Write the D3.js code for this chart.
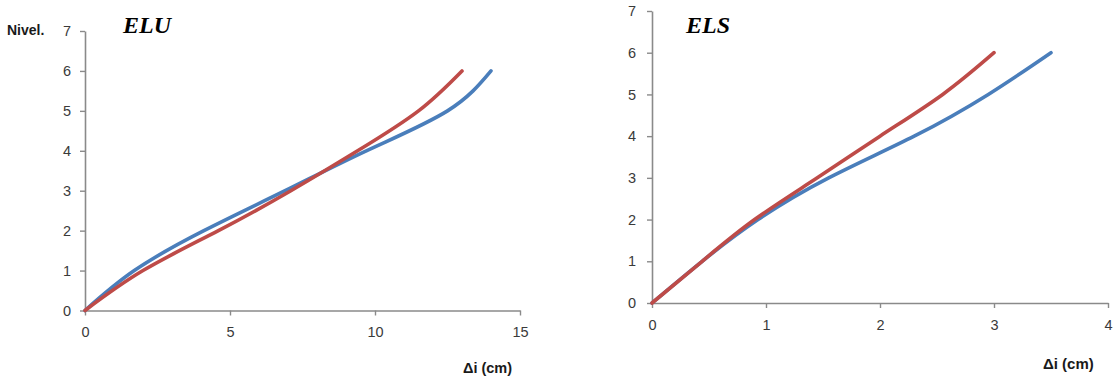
<!DOCTYPE html>
<html>
<head>
<meta charset="utf-8">
<script src="https://cdn.jsdelivr.net/npm/d3@7"></script>
<style>
  html, body { margin: 0; padding: 0; background: #fff; }
  svg { display: block; }
  .tick text { font-family: "Liberation Sans", Arial, sans-serif; font-size: 14.5px; fill: #3a3a3a; }
</style>
</head>
<body>
<svg id="chart" width="1118" height="381"></svg>
<script>
// Storey levels (floor numbers) shared by both panels
const levels = [0, 1, 2, 3, 4, 5, 6];

// ELU: relative storey drift Δi (cm) per level
const eluBlue = [0, 1.7, 4.1, 6.9, 9.7, 12.5, 14];
const eluRed  = [0, 2.0, 4.6, 7.1, 9.4, 11.5, 13];

// ELS: relative storey drift Δi (cm) per level
const elsBlue = [0, 0.44, 0.93, 1.55, 2.3, 2.95, 3.5];
const elsRed  = [0, 0.44, 0.9, 1.45, 2.0, 2.55, 3.0];

const eluXTicks = [0, 5, 10, 15];
const elsXTicks = [0, 1, 2, 3, 4];
const yTicks = [0, 1, 2, 3, 4, 5, 6, 7];

const BLUE = "#4a7ebb";
const RED = "#be4b48";
const AXIS = "#8a8a8a";

const svg = d3.select("#chart");
const intFmt = d3.format("d");

function panel(cfg) {
  const g = svg.append("g");
  const x = d3.scaleLinear().domain(cfg.xDomain).range([cfg.left, cfg.right]);
  const y = d3.scaleLinear().domain([0, 7]).range([cfg.bottom, cfg.top]);

  const xAxis = g.append("g")
    .attr("transform", `translate(0,${cfg.bottom})`)
    .call(d3.axisBottom(x).tickValues(cfg.xTicks).tickFormat(intFmt)
      .tickSize(5).tickSizeOuter(0).tickPadding(cfg.xPad));
  const yAxis = g.append("g")
    .attr("transform", `translate(${cfg.left},0)`)
    .call(d3.axisLeft(y).tickValues(yTicks).tickFormat(intFmt)
      .tickSize(5).tickSizeOuter(0).tickPadding(cfg.yPad));
  [xAxis, yAxis].forEach(a => {
    a.select(".domain").attr("stroke", AXIS).attr("stroke-width", 1.6);
    a.selectAll(".tick line").attr("stroke", AXIS).attr("stroke-width", 1.4);
  });

  // Smoothed polyline through the level points
  const line = d3.line()
    .x(d => x(d[0]))
    .y(d => y(d[1]))
    .curve(d3.curveNatural);

  cfg.series.forEach(s => {
    g.append("path")
      .datum(s.values.map((v, i) => [v, levels[i]]))
      .attr("fill", "none")
      .attr("stroke", s.color)
      .attr("stroke-width", 3.6)
      .attr("stroke-linecap", "round")
      .attr("stroke-linejoin", "round")
      .attr("d", line);
  });

  g.append("text")
    .attr("x", cfg.titleX).attr("y", 33)
    .attr("font-family", "'Liberation Serif', 'Times New Roman', serif")
    .attr("font-weight", "bold").attr("font-style", "italic")
    .attr("font-size", 24).attr("fill", "#000")
    .text(cfg.title);

  g.append("text")
    .attr("x", cfg.xLabelX).attr("y", cfg.xLabelY)
    .attr("font-family", "'Liberation Sans', Arial, sans-serif")
    .attr("font-weight", "bold").attr("font-size", cfg.xLabelSize).attr("fill", "#1a1a1a")
    .text("Δi (cm)");
}

panel({
  xDomain: [0, 15], xTicks: eluXTicks,
  left: 85, right: 520, top: 31, bottom: 310.5,
  xPad: 11, yPad: 9,
  title: "ELU", titleX: 123,
  xLabelX: 463, xLabelY: 373, xLabelSize: 14.5,
  series: [{ values: eluBlue, color: BLUE }, { values: eluRed, color: RED }]
});

panel({
  xDomain: [0, 4], xTicks: elsXTicks,
  left: 652, right: 1108, top: 11, bottom: 303,
  xPad: 12, yPad: 11,
  title: "ELS", titleX: 686,
  xLabelX: 1043, xLabelY: 369, xLabelSize: 15,
  series: [{ values: elsBlue, color: BLUE }, { values: elsRed, color: RED }]
});

// Vertical axis title of the first panel
svg.append("text")
  .attr("x", 7).attr("y", 35)
  .attr("font-family", "'Liberation Sans', Arial, sans-serif")
  .attr("font-weight", "bold").attr("font-size", 14).attr("fill", "#1a1a1a")
  .text("Nivel.");

// Caption below the first panel, cut by the lower edge
svg.append("text")
  .attr("x", 274).attr("y", 392)
  .attr("font-family", "'Liberation Sans', Arial, sans-serif")
  .attr("font-size", 14).attr("fill", "#333")
  .text("(a)");
</script>
</body>
</html>
